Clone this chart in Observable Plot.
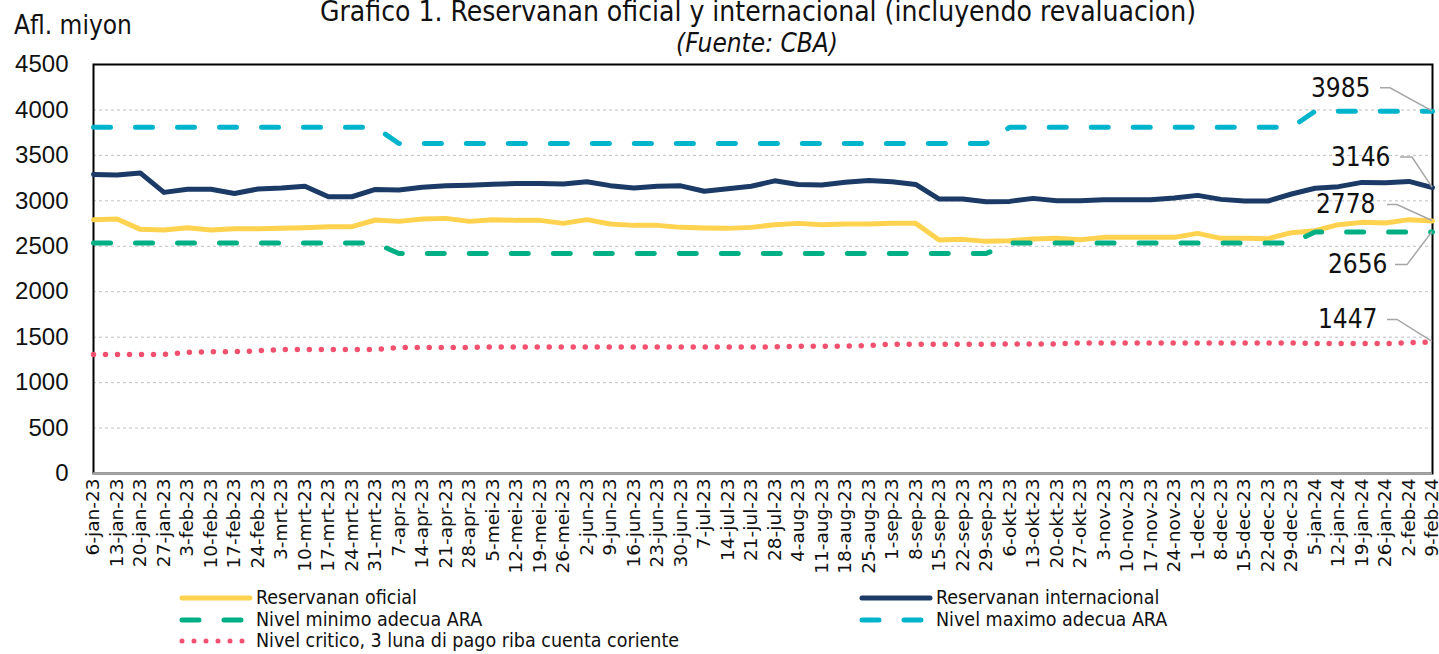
<!DOCTYPE html>
<html><head><meta charset="utf-8">
<script src="https://cdn.jsdelivr.net/npm/d3@7"></script>
<script src="https://cdn.jsdelivr.net/npm/@observablehq/plot@0.6"></script>
<style>
body{margin:0;background:#fff;}
#wrap{position:relative;width:1439px;height:654px;overflow:hidden;font-family:"Liberation Sans Narrow","DejaVu Sans Condensed","Liberation Sans",sans-serif;color:#111;}
.t{position:absolute;white-space:nowrap;line-height:1;}
#chart{position:absolute;left:0;top:50px;}
.leg{position:absolute;display:flex;align-items:center;font-size:19.5px;line-height:1;white-space:nowrap;height:20px;}
.leg svg{display:block;margin-right:2px;}
</style></head>
<body><div id="wrap">
<div class="t" style="left:758px;top:-2px;transform:translateX(-50%);font-size:28px;">Grafico 1. Reservanan oficial y internacional (incluyendo revaluacion)</div>
<div class="t" style="left:757px;top:30px;transform:translateX(-50%);font-size:26px;font-style:italic;">(Fuente: CBA)</div>
<div class="t" style="left:14px;top:12px;font-size:26px;">Afl. miyon</div>
<div id="chart"></div>
<div id="legend"></div>
</div>
<script>
const dates = ["6-jan-23","13-jan-23","20-jan-23","27-jan-23","3-feb-23","10-feb-23","17-feb-23","24-feb-23","3-mrt-23","10-mrt-23","17-mrt-23","24-mrt-23","31-mrt-23","7-apr-23","14-apr-23","21-apr-23","28-apr-23","5-mei-23","12-mei-23","19-mei-23","26-mei-23","2-jun-23","9-jun-23","16-jun-23","23-jun-23","30-jun-23","7-jul-23","14-jul-23","21-jul-23","28-jul-23","4-aug-23","11-aug-23","18-aug-23","25-aug-23","1-sep-23","8-sep-23","15-sep-23","22-sep-23","29-sep-23","6-okt-23","13-okt-23","20-okt-23","27-okt-23","3-nov-23","10-nov-23","17-nov-23","24-nov-23","1-dec-23","8-dec-23","15-dec-23","22-dec-23","29-dec-23","5-jan-24","12-jan-24","19-jan-24","26-jan-24","2-feb-24","9-feb-24"];

const official = [2793,2800,2686,2679,2705,2679,2694,2694,2697,2705,2716,2716,2789,2774,2800,2807,2774,2793,2785,2785,2752,2793,2745,2730,2730,2708,2701,2697,2708,2738,2752,2738,2745,2745,2752,2752,2569,2576,2554,2562,2580,2587,2573,2598,2598,2598,2598,2642,2587,2587,2584,2650,2672,2738,2763,2756,2793,2778];

const international = [3290,3285,3305,3093,3127,3127,3080,3130,3142,3160,3045,3045,3125,3120,3150,3165,3172,3182,3190,3192,3185,3210,3167,3140,3160,3165,3105,3134,3160,3220,3180,3175,3205,3225,3210,3180,3020,3020,2990,2994,3027,3002,3002,3013,3013,3013,3031,3060,3016,2998,2998,3075,3138,3156,3203,3200,3214,3146];

const minAra = [2535,2535,2535,2535,2535,2535,2535,2535,2535,2535,2535,2535,2535,2420,2420,2420,2420,2420,2420,2420,2420,2420,2420,2420,2420,2420,2420,2420,2420,2420,2420,2420,2420,2420,2420,2420,2420,2420,2420,2535,2535,2535,2535,2535,2535,2535,2535,2535,2535,2535,2535,2535,2656,2656,2656,2656,2656,2656];

const maxAra = [3810,3810,3810,3810,3810,3810,3810,3810,3810,3810,3810,3810,3810,3630,3630,3630,3630,3630,3630,3630,3630,3630,3630,3630,3630,3630,3630,3630,3630,3630,3630,3630,3630,3630,3630,3630,3630,3630,3630,3810,3810,3810,3810,3810,3810,3810,3810,3810,3810,3810,3810,3810,3985,3985,3985,3985,3985,3985];

const critical = [1310,1310,1310,1310,1335,1340,1340,1350,1365,1365,1365,1365,1365,1385,1385,1385,1385,1393,1393,1393,1393,1393,1393,1393,1393,1393,1393,1393,1393,1393,1400,1400,1400,1410,1422,1422,1422,1422,1422,1426,1426,1426,1437,1437,1437,1437,1437,1437,1437,1437,1437,1437,1430,1430,1430,1430,1440,1447];

const seriesNames = ["Reservanan oficial","Reservanan internacional","Nivel minimo adecua ARA","Nivel maximo adecua ARA","Nivel critico, 3 luna di pago riba cuenta coriente"];
const yTicks = [0,500,1000,1500,2000,2500,3000,3500,4000,4500];

// styles (not data)
const styles = [
  {stroke:"#ffd24f", strokeWidth:5, dash:null},
  {stroke:"#1b3a66", strokeWidth:5, dash:null},
  {stroke:"#00b084", strokeWidth:5, dash:"17,25"},
  {stroke:"#00b4cb", strokeWidth:5, dash:"17,25"},
  {stroke:"#f2506f", strokeWidth:5.5, dash:"0,12"}
];
const seriesValues = [official, international, minAra, maxAra, critical];

// end labels: which series, and pixel offsets for label and leader
const endLabelSeries = [3, 1, 0, 2, 4];
const endLabelOffsets = [
  {dx:-62, dy:-23, ax:-52, bx:-42},
  {dx:-42, dy:-30, ax:-32, bx:-20},
  {dx:-57, dy:-16, ax:-45, bx:-35},
  {dx:-45, dy:33, ax:-37, bx:-25},
  {dx:-55, dy:-22, ax:-45, bx:-35}
];
const last = dates.length - 1;
const endLabels = endLabelSeries.map((s, k) => ({date: dates[last], value: seriesValues[s][last], ...endLabelOffsets[k]}));

const drawOrder = [0, 1, 2, 3, 4];
const lineMarks = drawOrder.map(s => Plot.line(dates, {
  x: dates, y: seriesValues[s],
  stroke: styles[s].stroke, strokeWidth: styles[s].strokeWidth,
  strokeDasharray: styles[s].dash || undefined,
  strokeLinecap: "round", strokeLinejoin: "round", curve: "linear"
}));

const plot = Plot.plot({
  width: 1439, height: 535,
  marginTop: 14, marginBottom: 112, marginLeft: 93, marginRight: 7,
  style: {fontFamily: "Liberation Sans, sans-serif", fontSize: "24px", color: "#111", background: "transparent", overflow: "visible"},
  x: {type: "point", domain: dates, padding: 0, round: false, tickRotate: -90, tickSize: 0, tickPadding: 5, label: null},
  y: {domain: [0, 4500], ticks: yTicks, tickFormat: d3.format("d"), tickSize: 0, tickPadding: 25, label: null},
  marks: [
    Plot.ruleY(yTicks.filter(v => v > 0 && v < 4500), {stroke: "#c0c0c0", strokeWidth: 1, strokeDasharray: "3,3"}),
    Plot.frame({stroke: "#000", strokeWidth: 2}),
    Plot.ruleY([0], {stroke: "#a6a6a6", strokeWidth: 2.5}),
    ...lineMarks,
    ...endLabels.map(l => Plot.text([l], {x: "date", y: "value", text: d => String(d.value), dx: l.dx, dy: l.dy, textAnchor: "end", fontSize: 26, fontFamily: "Liberation Sans Narrow, DejaVu Sans Condensed, sans-serif", fill: "#111"}))
  ]
});
document.getElementById("chart").appendChild(plot);

// tick label fonts
d3.select(plot).selectAll('g[aria-label^="x-axis"] text').attr("font-family", "DejaVu Sans, sans-serif").attr("font-size", 18.5);
d3.select(plot).selectAll('g[aria-label^="y-axis"] text').attr("font-size", 24);

// leader lines via the plot's scales
const sx = plot.scale("x"), sy = plot.scale("y");
const xs = d3.scalePoint(sx.domain, sx.range).padding(sx.padding ?? 0).align(sx.align ?? 0.5);
const ys = d3.scaleLinear(sy.domain, sy.range);
const svg = d3.select(plot);
endLabels.forEach(l => {
  const px = xs(l.date), py = ys(l.value);
  svg.append("path")
    .attr("d", `M${px + l.ax},${py + l.dy}H${px + l.bx}L${px},${py}`)
    .attr("fill", "none").attr("stroke", "#a6a6a6").attr("stroke-width", 1.5);
});

// legend
const legendPos = [
  {left:178, top:598}, {left:858, top:598},
  {left:178, top:620}, {left:858, top:620},
  {left:178, top:641}
];
const legend = document.getElementById("legend");
seriesNames.forEach((name, s) => {
  const div = document.createElement("div");
  div.className = "leg";
  div.style.left = legendPos[s].left + "px";
  div.style.top = (legendPos[s].top - 10) + "px";
  const st = styles[s];
  div.innerHTML = `<svg width="76" height="20"><line x1="4" x2="72" y1="10" y2="10" stroke="${st.stroke}" stroke-width="5" stroke-linecap="round" ${st.dash ? `stroke-dasharray="${st.dash}"` : ""}/></svg><span>${name}</span>`;
  legend.appendChild(div);
});
</script>
</body></html>
